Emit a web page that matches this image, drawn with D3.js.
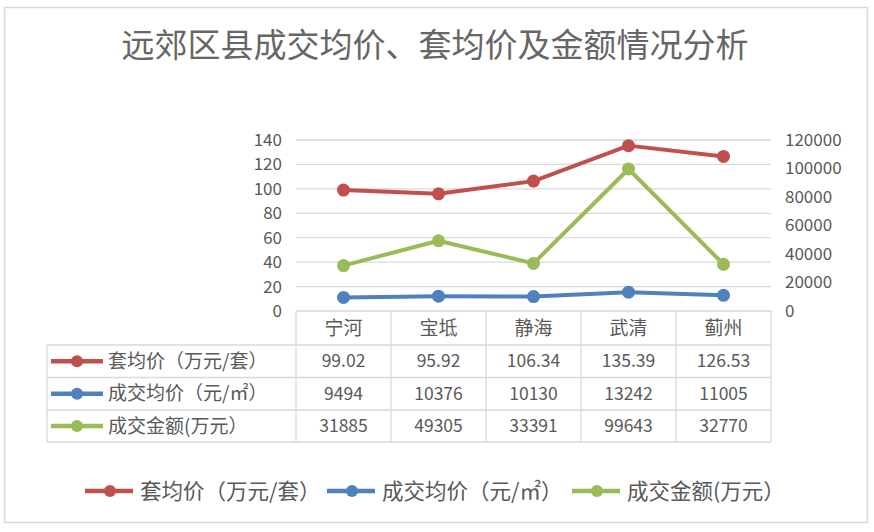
<!DOCTYPE html>
<html><head><meta charset="utf-8">
<script src="https://cdn.jsdelivr.net/npm/d3@7"></script>
<style>
body{margin:0;background:#fff;}
text{font-family:"Noto Sans CJK SC","Noto Sans",sans-serif;fill:#595959;}
</style></head>
<body><svg id="c" width="874" height="532"></svg>
<script>
const title = "远郊区县成交均价、套均价及金额情况分析";
const categories = ["宁河","宝坻","静海","武清","蓟州"];
const seriesNames = ["套均价（万元/套）","成交均价（元/㎡）","成交金额(万元）"];
const taoJunJia = [99.02, 95.92, 106.34, 135.39, 126.53];
const chengJiaoJunJia = [9494, 10376, 10130, 13242, 11005];
const chengJiaoJinE = [31885, 49305, 33391, 99643, 32770];
const leftTicks = [0,20,40,60,80,100,120,140];
const rightTicks = [0,20000,40000,60000,80000,100000,120000];
const colors = ["#C0504D","#4F81BD","#9BBB59"];

const series = [
  {name: seriesNames[0], values: taoJunJia, axis: "left", color: colors[0]},
  {name: seriesNames[1], values: chengJiaoJunJia, axis: "right", color: colors[1]},
  {name: seriesNames[2], values: chengJiaoJinE, axis: "right", color: colors[2]}
];

const svg = d3.select("#c");
svg.append("rect").attr("x",4.5).attr("y",7.5).attr("width",863).attr("height",515)
  .attr("fill","#fff").attr("stroke","#D9D9D9").attr("stroke-width",1.5);

svg.append("text").attr("x",435).attr("y",57).attr("text-anchor","middle")
  .style("font-size","33px").style("fill","#666").text(title);

const x0 = 296, x1 = 771, yTop = 140, yBase = 311;
const x = d3.scaleBand().domain(categories).range([x0,x1]);
const yL = d3.scaleLinear().domain([0,140]).range([yBase,yTop]);
const yR = d3.scaleLinear().domain([0,120000]).range([yBase,yTop]);

// gridlines
svg.append("g").selectAll("line").data(leftTicks.filter(d=>d>0)).join("line")
  .attr("x1",x0).attr("x2",x1).attr("y1",d=>yL(d)).attr("y2",d=>yL(d))
  .attr("stroke","#D9D9D9").attr("stroke-width",1.3);

// left axis
const gl = svg.append("g").attr("transform",`translate(${x0-14},0)`)
  .call(d3.axisLeft(yL).tickValues(leftTicks).tickSize(0).tickPadding(0));
gl.select(".domain").remove();
gl.selectAll("text").style("font-size","17px").attr("fill","#595959");

// right axis
const gr = svg.append("g").attr("transform",`translate(${x1+14},0)`)
  .call(d3.axisRight(yR).tickValues(rightTicks).tickFormat(d3.format("d")).tickSize(0).tickPadding(0));
gr.select(".domain").remove();
gr.selectAll("text").style("font-size","17px").attr("fill","#595959");

// lines
series.forEach(s=>{
  const ys = s.axis==="left"?yL:yR;
  const line = d3.line().x((d,i)=>x(categories[i])+x.bandwidth()/2).y(d=>ys(d));
  svg.append("path").datum(s.values).attr("d",line).attr("fill","none")
    .attr("stroke",s.color).attr("stroke-width",4).attr("stroke-linejoin","round");
  svg.append("g").selectAll("circle").data(s.values).join("circle")
    .attr("cx",(d,i)=>x(categories[i])+x.bandwidth()/2).attr("cy",d=>ys(d)).attr("r",6.5)
    .attr("fill",s.color);
});

// data table
const tLeft = 47;
const rowY = [311, 345, 377.5, 410, 442];
const tg = svg.append("g");
const gridColor = "#D9D9D9";
tg.append("line").attr("x1",x0).attr("x2",x1).attr("y1",rowY[0]).attr("y2",rowY[0]).attr("stroke",gridColor).attr("stroke-width",1.3);
for(let r=1;r<rowY.length;r++){
  tg.append("line").attr("x1",tLeft).attr("x2",x1).attr("y1",rowY[r]).attr("y2",rowY[r]).attr("stroke",gridColor).attr("stroke-width",1.3);
}
const colEdges = categories.map(c=>x(c)).concat([x1]);
colEdges.forEach(cx=>{
  tg.append("line").attr("x1",cx).attr("x2",cx).attr("y1",rowY[0]).attr("y2",rowY[4]).attr("stroke",gridColor).attr("stroke-width",1.3);
});
tg.append("line").attr("x1",tLeft).attr("x2",tLeft).attr("y1",rowY[1]).attr("y2",rowY[4]).attr("stroke",gridColor).attr("stroke-width",1.3);

tg.selectAll("text.cat").data(categories).join("text").attr("class","cat")
  .attr("x",d=>x(d)+x.bandwidth()/2).attr("y",(rowY[0]+rowY[1])/2+7)
  .attr("text-anchor","middle").style("font-size","19px").text(d=>d);

series.forEach((s,r)=>{
  const cy = (rowY[r+1]+rowY[r+2])/2;
  tg.append("line").attr("x1",51).attr("x2",103).attr("y1",cy).attr("y2",cy).attr("stroke",s.color).attr("stroke-width",4.5);
  tg.append("circle").attr("cx",77).attr("cy",cy).attr("r",6).attr("fill",s.color);
  tg.append("text").attr("x",108).attr("y",cy+6.5).style("font-size","19px").text(s.name);
  tg.selectAll(null).data(s.values).join("text")
    .attr("x",(d,i)=>x(categories[i])+x.bandwidth()/2).attr("y",cy+6)
    .attr("text-anchor","middle").style("font-size","17.5px").text(d=>String(d));
});

// legend
const legX = [85, 327, 572];
series.forEach((s,i)=>{
  const lx = legX[i], ly = 491;
  svg.append("line").attr("x1",lx).attr("x2",lx+48).attr("y1",ly).attr("y2",ly).attr("stroke",s.color).attr("stroke-width",4.5);
  svg.append("circle").attr("cx",lx+25).attr("cy",ly).attr("r",6).attr("fill",s.color);
  svg.append("text").attr("x",lx+55).attr("y",ly+7.5).style("font-size","21.5px").text(s.name);
});
</script></body></html>
